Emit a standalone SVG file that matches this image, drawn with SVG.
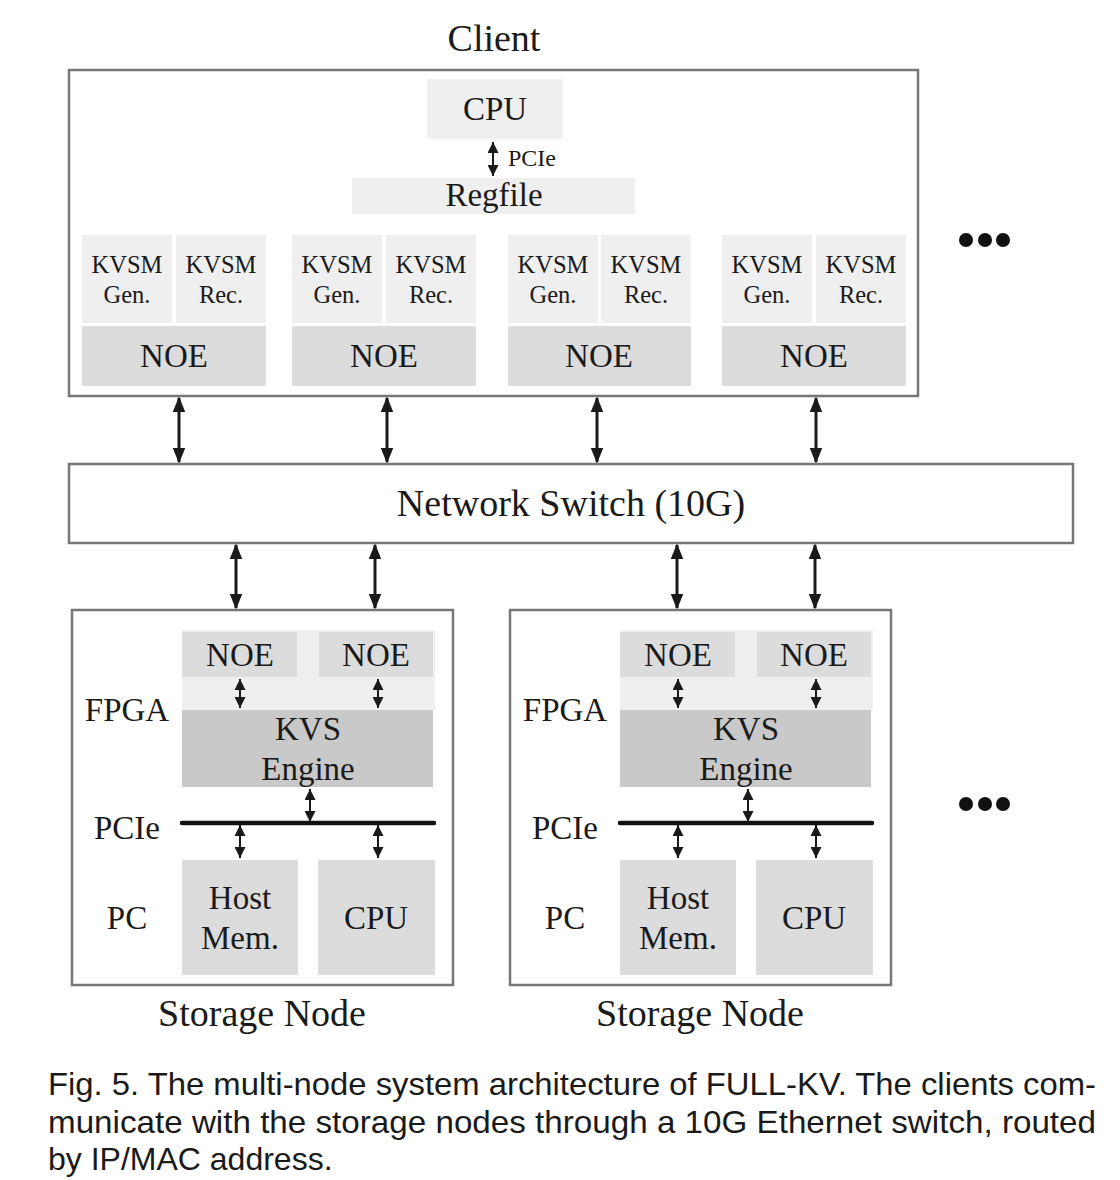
<svg xmlns="http://www.w3.org/2000/svg" width="1120" height="1180" viewBox="0 0 1120 1180">
<style>
.frame{fill:#fff;stroke:#777;stroke-width:2.5}
.light{fill:#efefef}
.mid{fill:#dcdcdd}
.dark{fill:#c9c9ca}
.t{font-family:"Liberation Serif","Times New Roman",serif;fill:#1a1a1a;text-anchor:middle}
.big{font-size:38px}
.med{font-size:33px}
.sm{font-size:24.5px}
.xs{font-size:24px}
.lab{font-family:"Liberation Serif","Times New Roman",serif;fill:#1a1a1a;font-size:33px;text-anchor:middle}
.cap{font-family:"Liberation Sans",Arial,sans-serif;font-size:32px;fill:#1a1a1a}
.a1{stroke:#1a1a1a;stroke-width:3;fill:none;marker-start:url(#hb);marker-end:url(#hb)}
.a2{stroke:#1a1a1a;stroke-width:2;fill:none;marker-start:url(#hs);marker-end:url(#hs)}
.bus{stroke:#111;stroke-width:4.5;stroke-linecap:round}
</style>
<defs>
<marker id="hb" markerWidth="16" markerHeight="20" refX="18" refY="8" viewBox="0 0 20 16" orient="auto-start-reverse" markerUnits="userSpaceOnUse">
<path d="M0,0 L20,8 L0,16 Z" fill="#1a1a1a"/>
</marker>
<marker id="hs" markerWidth="11" markerHeight="11" refX="11" refY="5.5" viewBox="0 0 11 11" orient="auto-start-reverse" markerUnits="userSpaceOnUse">
<path d="M0,0 L11,5.5 L0,11 Z" fill="#1a1a1a"/>
</marker>
</defs>

<g id="client">
<text class="t big" x="494" y="51">Client</text>
<rect class="frame" x="69" y="70" width="849" height="326"/>
<g id="client-cpu"><rect class="light" x="427" y="79" width="136" height="60"/><text class="t med" x="495" y="120">CPU</text></g>
<g id="regfile"><rect class="light" x="352" y="178" width="283" height="36"/><text class="t med" x="494" y="206">Regfile</text></g>
<text class="t xs" x="532" y="166">PCIe</text>
<g id="kvsm1">
<rect class="light" x="82" y="235" width="90" height="88"/><rect class="light" x="176" y="235" width="90" height="88"/>
<text class="t sm" x="127" y="273">KVSM</text><text class="t sm" x="127" y="303">Gen.</text>
<text class="t sm" x="221" y="273">KVSM</text><text class="t sm" x="221" y="303">Rec.</text>
<rect class="mid" x="82" y="326" width="184" height="60"/><text class="t med" x="174" y="367">NOE</text>
</g>
<g id="kvsm2">
<rect class="light" x="292" y="235" width="90" height="88"/><rect class="light" x="386" y="235" width="90" height="88"/>
<text class="t sm" x="337" y="273">KVSM</text><text class="t sm" x="337" y="303">Gen.</text>
<text class="t sm" x="431" y="273">KVSM</text><text class="t sm" x="431" y="303">Rec.</text>
<rect class="mid" x="292" y="326" width="184" height="60"/><text class="t med" x="384" y="367">NOE</text>
</g>
<g id="kvsm3">
<rect class="light" x="508" y="235" width="90" height="88"/><rect class="light" x="601" y="235" width="90" height="88"/>
<text class="t sm" x="553" y="273">KVSM</text><text class="t sm" x="553" y="303">Gen.</text>
<text class="t sm" x="646" y="273">KVSM</text><text class="t sm" x="646" y="303">Rec.</text>
<rect class="mid" x="508" y="326" width="183" height="60"/><text class="t med" x="599" y="367">NOE</text>
</g>
<g id="kvsm4">
<rect class="light" x="722" y="235" width="90" height="88"/><rect class="light" x="816" y="235" width="90" height="88"/>
<text class="t sm" x="767" y="273">KVSM</text><text class="t sm" x="767" y="303">Gen.</text>
<text class="t sm" x="861" y="273">KVSM</text><text class="t sm" x="861" y="303">Rec.</text>
<rect class="mid" x="722" y="326" width="184" height="60"/><text class="t med" x="814" y="367">NOE</text>
</g>
</g>

<g id="dots">
<circle cx="966" cy="240" r="7" fill="#111"/><circle cx="985" cy="240" r="7" fill="#111"/><circle cx="1003" cy="240" r="7" fill="#111"/>
<circle cx="966" cy="804" r="7" fill="#111"/><circle cx="985" cy="804" r="7" fill="#111"/><circle cx="1003" cy="804" r="7" fill="#111"/>
</g>

<g id="switch">
<rect class="frame" x="69" y="464" width="1004" height="79"/>
<text class="t big" x="571" y="516">Network Switch (10G)</text>
</g>

<g id="storage1">
<rect class="frame" x="72" y="610" width="381" height="375"/>
<rect class="light" x="182" y="630" width="253" height="80"/>
<rect class="mid" x="182" y="632" width="115" height="45"/><text class="t med" x="240" y="666">NOE</text>
<rect class="mid" x="319" y="632" width="114" height="45"/><text class="t med" x="376" y="666">NOE</text>
<rect class="dark" x="182" y="710" width="251" height="77"/>
<text class="t med" x="308" y="740">KVS</text><text class="t med" x="308" y="780">Engine</text>
<rect class="mid" x="182" y="860" width="116" height="115"/>
<text class="t med" x="240" y="909">Host</text><text class="t med" x="240" y="949">Mem.</text>
<rect class="mid" x="318" y="860" width="117" height="115"/><text class="t med" x="376" y="929">CPU</text>
<text class="lab" x="127" y="721">FPGA</text>
<text class="lab" x="127" y="839">PCIe</text>
<text class="lab" x="127" y="929">PC</text>
<text class="t big" x="262" y="1026">Storage Node</text>
</g>

<g id="storage2">
<rect class="frame" x="510" y="610" width="381" height="375"/>
<rect class="light" x="620" y="630" width="253" height="80"/>
<rect class="mid" x="620" y="632" width="115" height="45"/><text class="t med" x="678" y="666">NOE</text>
<rect class="mid" x="757" y="632" width="114" height="45"/><text class="t med" x="814" y="666">NOE</text>
<rect class="dark" x="620" y="710" width="251" height="77"/>
<text class="t med" x="746" y="740">KVS</text><text class="t med" x="746" y="780">Engine</text>
<rect class="mid" x="620" y="860" width="116" height="115"/>
<text class="t med" x="678" y="909">Host</text><text class="t med" x="678" y="949">Mem.</text>
<rect class="mid" x="756" y="860" width="117" height="115"/><text class="t med" x="814" y="929">CPU</text>
<text class="lab" x="565" y="721">FPGA</text>
<text class="lab" x="565" y="839">PCIe</text>
<text class="lab" x="565" y="929">PC</text>
<text class="t big" x="700" y="1026">Storage Node</text>
</g>

<g id="connectors">
<line class="a2" x1="493" y1="142" x2="493" y2="176"/>
<line class="a1" x1="179" y1="398" x2="179" y2="462"/>
<line class="a1" x1="387" y1="398" x2="387" y2="462"/>
<line class="a1" x1="597" y1="398" x2="597" y2="462"/>
<line class="a1" x1="816" y1="398" x2="816" y2="462"/>
<line class="a1" x1="236" y1="545" x2="236" y2="608"/>
<line class="a1" x1="375" y1="545" x2="375" y2="608"/>
<line class="a1" x1="677" y1="545" x2="677" y2="608"/>
<line class="a1" x1="815" y1="545" x2="815" y2="608"/>
<line class="bus" x1="182" y1="823" x2="434" y2="823"/>
<line class="a2" x1="240" y1="679" x2="240" y2="708"/>
<line class="a2" x1="378" y1="679" x2="378" y2="708"/>
<line class="a2" x1="310" y1="789" x2="310" y2="822"/>
<line class="a2" x1="240" y1="825" x2="240" y2="858"/>
<line class="a2" x1="378" y1="825" x2="378" y2="858"/>
<line class="bus" x1="620" y1="823" x2="872" y2="823"/>
<line class="a2" x1="678" y1="679" x2="678" y2="708"/>
<line class="a2" x1="816" y1="679" x2="816" y2="708"/>
<line class="a2" x1="748" y1="789" x2="748" y2="822"/>
<line class="a2" x1="678" y1="825" x2="678" y2="858"/>
<line class="a2" x1="816" y1="825" x2="816" y2="858"/>
</g>

<g id="caption">
<text class="cap" x="48" y="1095" textLength="1048" lengthAdjust="spacingAndGlyphs">Fig. 5. The multi-node system architecture of FULL-KV. The clients com-</text>
<text class="cap" x="48" y="1133" textLength="1048" lengthAdjust="spacingAndGlyphs">municate with the storage nodes through a 10G Ethernet switch, routed</text>
<text class="cap" x="48" y="1170">by IP/MAC address.</text>
</g>
</svg>
